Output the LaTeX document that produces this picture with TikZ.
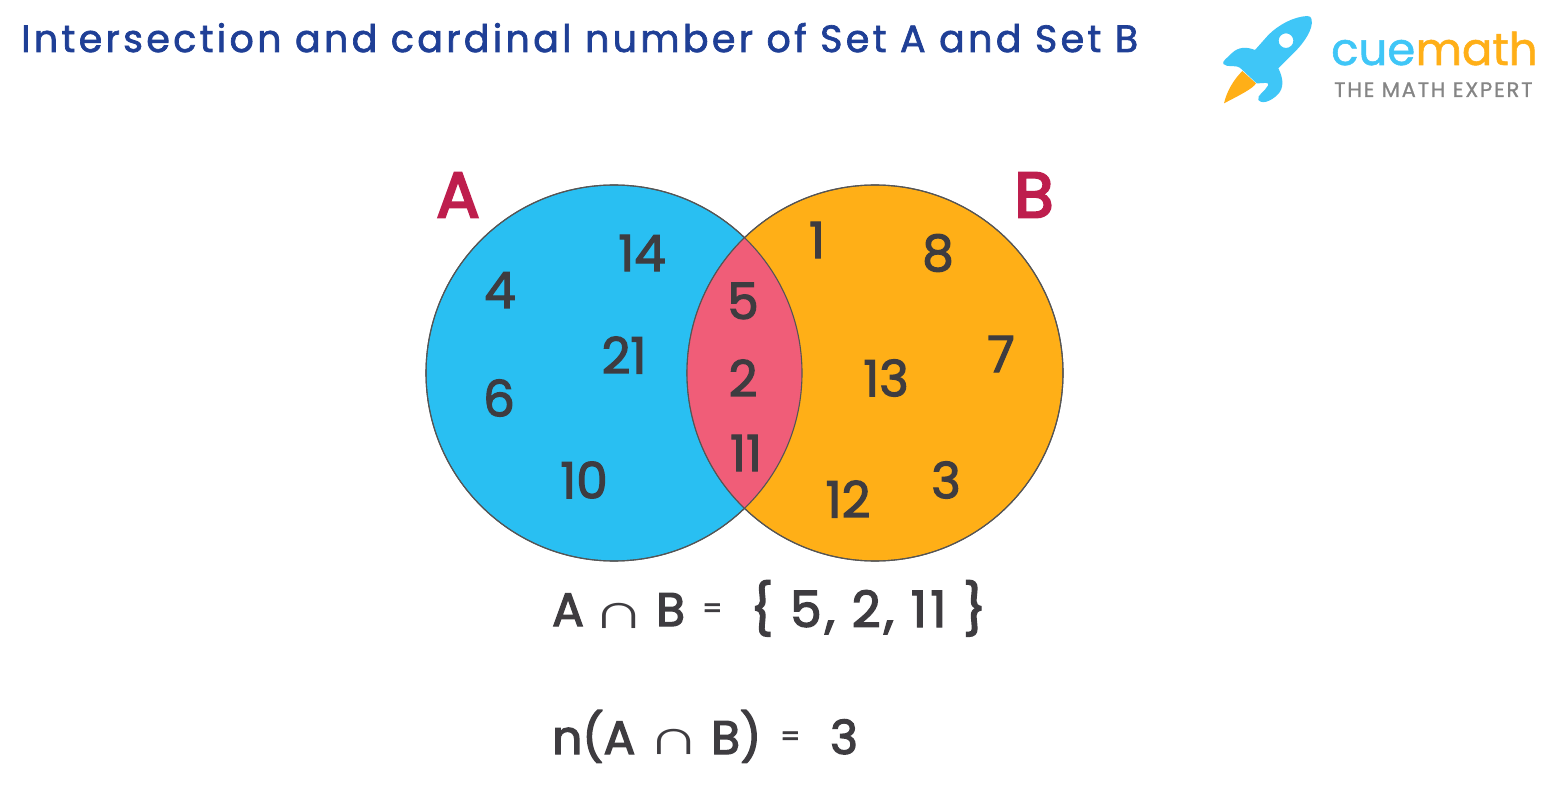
\documentclass[tikz,border=0pt]{standalone}
\usepackage{fontspec}
\setmainfont{Poppins}
\newfontfamily\numfont[FakeBold=2.4]{Poppins}
\newfontfamily\capfont[FakeBold=2.8]{Poppins}
\newfontfamily\namefont[FakeBold=3.6]{Poppins}
\newfontfamily\spacedfont[FakeBold=2.8,LetterSpace=7]{Poppins}
\newfontfamily\titlefont[FakeBold=1.8,LetterSpace=8.8]{Poppins}
\newfontfamily\logofont[FakeBold=1.2]{Poppins}
\newfontfamily\sloganfont[FakeBold=0.8,LetterSpace=8.5]{Poppins}
\newfontfamily\symfont{Liberation Sans}
\definecolor{setblue}{HTML}{29BFF2}
\definecolor{setorange}{HTML}{FFAF17}
\definecolor{setpink}{HTML}{F05D78}
\definecolor{ink}{HTML}{3E3C40}
\definecolor{rim}{HTML}{555555}
\definecolor{setlabel}{HTML}{BE1E4D}
\definecolor{titleblue}{HTML}{1F3F96}
\definecolor{logoblue}{HTML}{3FC6F7}
\definecolor{logogrey}{HTML}{858585}
\tikzset{
  setdisc/.style={circle,minimum size=376pt,inner sep=0pt,draw=rim,line width=1.1pt},
  num/.style={inner sep=0pt,text=ink,font=\numfont\fontsize{50}{50}\selectfont},
  eqn/.style={inner sep=0pt,anchor=base west,text=ink,font=\capfont\fontsize{47}{47}\selectfont},
  eqsign/.style={inner sep=0pt,anchor=base west,text=ink,font=\capfont\fontsize{28}{28}\selectfont},
  capsym/.style={inner sep=0pt,anchor=base,text=ink,font=\symfont\fontsize{50}{50}\selectfont},
  setname/.style={inner sep=0pt,text=setlabel,font=\namefont\fontsize{64}{64}\selectfont}
}
\begin{document}
\begin{tikzpicture}[x=1pt,y=-1pt]
\useasboundingbox (0,0) rectangle (1550,786);
\fill[white] (0,0) rectangle (1550,786);
\node[inner sep=0pt,anchor=base west,text=titleblue,font=\titlefont\fontsize{38}{38}\selectfont] (title) at (21,52) {Intersection and cardinal number of Set A and Set B};
% logo
\begin{scope}[shift={(1200,0)},x=0.3333pt,y=-0.3333pt]
\fill[setorange] (127,213) -- (168,250) .. controls (160,265) and (120,285) .. (72,310) .. controls (80,275) and (100,240) .. (127,213) -- cycle;
\fill[logoblue,even odd rule] (322,48) .. controls (280,50) and (235,75) .. (205,105) -- (165,150)
 .. controls (140,140) and (115,140) .. (95,160) .. controls (80,175) and (65,185) .. (70,192)
 .. controls (80,205) and (110,190) .. (125,208) -- (170,250)
 .. controls (195,250) and (205,245) .. (205,255) .. controls (195,275) and (170,285) .. (175,300)
 .. controls (190,318) and (225,295) .. (238,278) .. controls (255,255) and (245,225) .. (235,205)
 -- (285,155) .. controls (315,125) and (340,85) .. (335,60) .. controls (333,50) and (328,48) .. (322,48) -- cycle
 (280,122) arc[radius=22,start angle=0,end angle=360];
\end{scope}
\node[inner sep=0pt,anchor=base west,text=logoblue,font=\logofont\fontsize{45}{45}\selectfont] (cue) at (1331,65) {cue};
\node[inner sep=0pt,anchor=base west,text=setorange,font=\logofont\fontsize{45}{45}\selectfont] (math) at (cue.base east) {math};
\node[inner sep=0pt,anchor=base west,text=logogrey,font=\sloganfont\fontsize{21}{21}\selectfont] (slogan) at (1334,97) {THE MATH EXPERT};
% sets
\node[setdisc,fill=setblue] (A) at (614,373) {};
\node[setdisc,fill=setorange] (B) at (875,373) {};
\begin{scope}
\clip (614,373) circle[radius=188];
\fill[setpink] (875,373) circle[radius=188];
\end{scope}
\node[setdisc] (Aline) at (614,373) {};
\node[setdisc] (Bline) at (875,373) {};
\node[setname] (la) at (458,195) {A};
\node[setname] (lb) at (1034,195) {B};
\node[num] (n14) at (642,253) {14};
\node[num] (n4) at (500,290) {4};
\node[num] (n21) at (624,355) {21};
\node[num] (n6) at (499,398) {6};
\node[num] (n10) at (584,480) {10};
\node[num] (n5) at (743,301) {5};
\node[num] (n2) at (743,378) {2};
\node[num] (n11) at (746,453) {11};
\node[num] (n1) at (817,240) {1};
\node[num] (n8) at (938,253) {8};
\node[num] (n13) at (886,378) {13};
\node[num] (n7) at (1001,354) {7};
\node[num] (n12) at (848,499) {12};
\node[num] (n3) at (946,480) {3};
% equations
\node[eqn] (e1a) at (552,626) {A};
\node[capsym] (e1c) at (619.5,628) {\scalebox{1.48}[1]{∩}};
\node[eqn] (e1b) at (656,626) {B};
\node[eqsign] (e1s) at (702,618) {=};
\node[eqn,font=\spacedfont\fontsize{50}{50}\selectfont] (e1r) at (750,627) {\{ 5, 2, 11 \}};
\node[eqn] (e2a) at (552,754) {n(A};
\node[capsym] (e2c) at (674.5,754) {\scalebox{1.48}[1]{∩}};
\node[eqn] (e2b) at (711,754) {B)};
\node[eqsign] (e2s) at (780,746) {=};
\node[eqn] (e2r) at (830,754) {3};
\end{tikzpicture}
\end{document}
